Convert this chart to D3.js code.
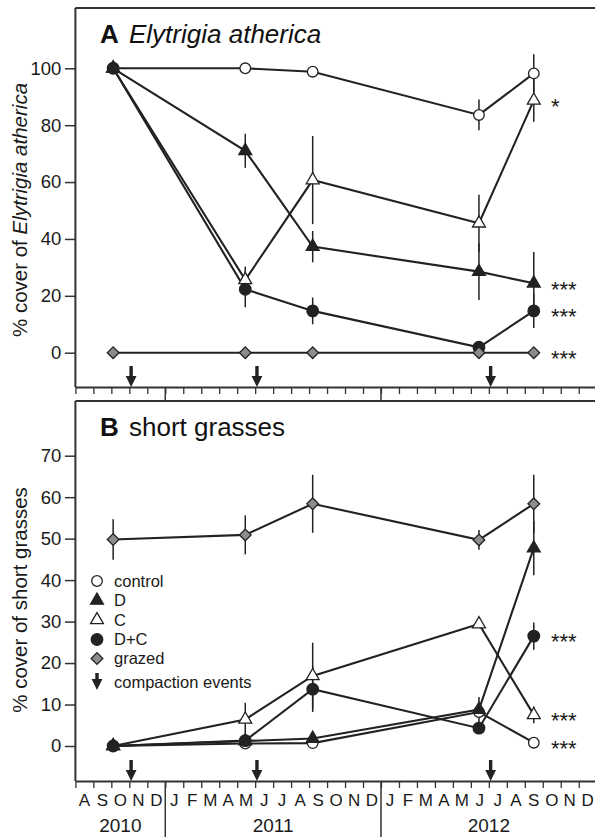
<!DOCTYPE html>
<html>
<head>
<meta charset="utf-8">
<script src="https://cdn.jsdelivr.net/npm/d3@7"></script>
<style>
  body { margin: 0; background: #fff; }
  svg { display: block; font-family: "Liberation Sans", Arial, sans-serif; }
</style>
</head>
<body>
<script>
// months since 1 Aug 2010 (axis runs Aug 2010 .. Dec 2012)
const monthLabels = ["A","S","O","N","D","J","F","M","A","M","J","J","A","S","O","N","D","J","F","M","A","M","J","J","A","S","O","N","D"]
const yearLabels = ["2010", "2011", "2012"]
const yearStarts = [0, 5, 17]
const yearEnds = [5, 17, 29]

const sampleTimes = [2.1, 9.45, 13.2, 22.45, 25.5]
const compactionTimes = [3.1, 10.1, 23.1]

const seriesNames = ["control", "C", "D", "D+C", "grazed"]

// panel A - Elytrigia atherica
const aTicks = [0, 20, 40, 60, 80, 100]
const aControl = [100, 100, 98.8, 83.6, 98.2]
const aControlErr = [0, 0, 0, 5.4, 6.7]
const aD = [100, 71, 37.3, 28.5, 24.4]
const aDErr = [0, 6, 5.5, 10, 11]
const aC = [100, 25.6, 60.7, 45.5, 88.7]
const aCErr = [0, 4.7, 15.5, 10, 7.5]
const aDC = [100, 22.3, 14.7, 1.9, 14.7]
const aDCErr = [0, 6.3, 4.7, 0, 6]
const aGrazed = [0, 0, 0, 0, 0]
const aGrazedErr = [0, 0, 0, 0, 0]
const aSig = { "C": "*", "D": "***", "D+C": "***", "grazed": "***" }

// panel B - short grasses
const bTicks = [0, 10, 20, 30, 40, 50, 60, 70]
const bControl = [0, 0.6, 0.7, 8.2, 0.8]
const bControlErr = [0, 0, 0, 0, 0]
const bD = [0, 1.2, 1.8, 8.8, 47.7]
const bDErr = [0, 0, 0, 3, 6.5]
const bC = [0, 6.4, 16.9, 29.4, 7.5]
const bCErr = [0, 4, 8, 0, 2]
const bDC = [0, 1.3, 13.7, 4.3, 26.5]
const bDCErr = [0, 0, 5.5, 0, 3.3]
const bGrazed = [49.8, 50.9, 58.4, 49.7, 58.4]
const bGrazedErr = [4.9, 4.7, 7, 2.4, 7]
const bSig = { "control": "***", "C": "***", "D+C": "***" }

const legendLabels = ["control", "D", "C", "D+C", "grazed", "compaction events"]

const W = 595, H = 837
const ink = "#222"

const svg = d3.select("body").append("svg")
	.attr("width", W)
	.attr("height", H)

const x = d3.scaleLinear().domain([0, 29]).range([75.4, 596.7])

const shapes = {
	"control": { sym: d3.symbolCircle, size: 88, fill: "#fff" },
	"D": { sym: d3.symbolTriangle, size: 72, fill: ink },
	"C": { sym: d3.symbolTriangle, size: 72, fill: "#fff" },
	"D+C": { sym: d3.symbolCircle, size: 105, fill: ink },
	"grazed": { sym: d3.symbolSquare, size: 68, fill: "#8c8c8c", rot: 45 }
}

function marker(sel, name) {
	let s = shapes[name]
	sel.append("path")
		.attr("d", d3.symbol().type(s.sym).size(s.size))
		.attr("transform", s.rot ? "rotate(" + s.rot + ")" : null)
		.attr("fill", s.fill)
		.attr("stroke", ink)
		.attr("stroke-width", 1.3)
}

function arrow(g, cx, tip, len) {
	let p = d3.path()
	p.moveTo(cx - 1.7, tip - len)
	p.lineTo(cx + 1.7, tip - len)
	p.lineTo(cx + 1.7, tip - 11)
	p.lineTo(cx + 5.4, tip - 11)
	p.lineTo(cx, tip)
	p.lineTo(cx - 5.4, tip - 11)
	p.lineTo(cx - 1.7, tip - 11)
	p.closePath()
	g.append("path").attr("d", p.toString()).attr("fill", ink)
}

function drawPanel(opt) {
	let { top, bottom, y, ticks, series, sig, letter, title, italic, ylabel, ylabelY } = opt
	let g = svg.append("g")

	// frame top
	g.append("line")
		.attr("x1", x(0)).attr("x2", W + 5)
		.attr("y1", top).attr("y2", top)
		.attr("stroke", "#333").attr("stroke-width", 2)

	// left axis
	let ya = g.append("g")
		.attr("transform", "translate(" + x(0) + ",0)")
		.call(d3.axisLeft(y).tickValues(ticks).tickSize(10.5).tickSizeOuter(0).tickPadding(3.5))
	ya.select(".domain").remove()
	ya.selectAll(".tick line").attr("stroke", "#333").attr("stroke-width", 1.5)
	ya.selectAll(".tick text").attr("font-size", 18.5).attr("fill", "#1a1a1a")
		.attr("font-family", "Liberation Sans, Arial, sans-serif")
	g.append("line")
		.attr("x1", x(0)).attr("x2", x(0))
		.attr("y1", top).attr("y2", bottom)
		.attr("stroke", "#333").attr("stroke-width", 2)

	// bottom axis, a tick at every month boundary
	let xa = g.append("g")
		.attr("transform", "translate(0," + bottom + ")")
		.call(d3.axisBottom(x).tickValues(d3.range(0, 30)).tickSize(7).tickSizeOuter(0).tickFormat(""))
	xa.select(".domain").attr("stroke", "#333").attr("stroke-width", 2)
	xa.selectAll(".tick line").attr("stroke", "#333").attr("stroke-width", 1.3)

	// error bars
	series.forEach(s => {
		g.selectAll(null)
			.data(s.vals.map((v, i) => ({ t: sampleTimes[i], v: v, e: s.err[i] })).filter(d => d.e > 0))
			.enter().append("line")
			.attr("x1", d => x(d.t)).attr("x2", d => x(d.t))
			.attr("y1", d => y(d.v - d.e)).attr("y2", d => y(d.v + d.e))
			.attr("stroke", ink).attr("stroke-width", 1.5)
	})

	// lines
	let line = d3.line().x((d, i) => x(sampleTimes[i])).y(d => y(d))
	series.forEach(s => {
		g.append("path")
			.attr("d", line(s.vals))
			.attr("fill", "none")
			.attr("stroke", ink)
			.attr("stroke-width", 2.1)
	})

	// markers
	series.forEach(s => {
		s.vals.forEach((v, i) => {
			let m = g.append("g").attr("transform", "translate(" + x(sampleTimes[i]) + "," + y(v) + ")")
			marker(m, s.name)
		})
	})

	// significance stars
	series.forEach(s => {
		if (!sig[s.name]) return
		g.append("text")
			.attr("x", 551)
			.attr("y", y(s.vals[s.vals.length - 1]))
			.attr("dy", "0.6em")
			.attr("font-size", 22)
			.attr("fill", "#1a1a1a")
			.text(sig[s.name])
	})

	// compaction events
	compactionTimes.forEach(t => arrow(g, x(t), bottom, 21))

	// title
	let tt = g.append("text")
		.attr("x", 100).attr("y", top + 35)
		.attr("font-size", 26).attr("fill", "#111")
	tt.append("tspan").attr("font-weight", "bold").text(letter)
	tt.append("tspan").attr("x", 129).attr("font-style", italic ? "italic" : null).text(title)

	// y label
	let yl = g.append("text")
		.attr("transform", "translate(27," + ylabelY + ") rotate(-90)")
		.attr("text-anchor", "middle")
		.attr("font-size", 20.5)
		.attr("fill", "#1a1a1a")
	yl.append("tspan").text("% cover of ")
	yl.append("tspan").attr("font-style", italic ? "italic" : null).text(ylabel)

	return g
}

function mk(vals, err) { return { vals: vals, err: err } }

let aSeries = [
	Object.assign({ name: "control" }, mk(aControl, aControlErr)),
	Object.assign({ name: "C" }, mk(aC, aCErr)),
	Object.assign({ name: "D" }, mk(aD, aDErr)),
	Object.assign({ name: "D+C" }, mk(aDC, aDCErr)),
	Object.assign({ name: "grazed" }, mk(aGrazed, aGrazedErr))
]
let bSeries = [
	Object.assign({ name: "control" }, mk(bControl, bControlErr)),
	Object.assign({ name: "C" }, mk(bC, bCErr)),
	Object.assign({ name: "D" }, mk(bD, bDErr)),
	Object.assign({ name: "D+C" }, mk(bDC, bDCErr)),
	Object.assign({ name: "grazed" }, mk(bGrazed, bGrazedErr))
]

drawPanel({
	top: 8, bottom: 387,
	y: d3.scaleLinear().domain([0, 100]).range([352.7, 68.3]),
	ticks: aTicks, series: aSeries, sig: aSig,
	letter: "A", title: "Elytrigia atherica", italic: true,
	ylabel: "Elytrigia atherica", ylabelY: 210
})

drawPanel({
	top: 401, bottom: 781,
	y: d3.scaleLinear().domain([0, 70]).range([746, 455.7]),
	ticks: bTicks, series: bSeries, sig: bSig,
	letter: "B", title: "short grasses", italic: false,
	ylabel: "short grasses", ylabelY: 600
})

// year separators
yearStarts.slice(1).forEach(m => {
	svg.append("line")
		.attr("x1", x(m)).attr("x2", x(m))
		.attr("y1", 387).attr("y2", 401)
		.attr("stroke", "#333").attr("stroke-width", 1.5)
	svg.append("line")
		.attr("x1", x(m)).attr("x2", x(m))
		.attr("y1", 781).attr("y2", H)
		.attr("stroke", "#333").attr("stroke-width", 1.5)
})

// month and year labels
svg.selectAll(".month")
	.data(monthLabels)
	.enter().append("text")
	.attr("class", "month")
	.attr("x", (d, i) => x(i + 0.5))
	.attr("y", 806)
	.attr("text-anchor", "middle")
	.attr("font-size", 17)
	.attr("fill", "#1a1a1a")
	.text(d => d)

svg.selectAll(".year")
	.data(yearLabels)
	.enter().append("text")
	.attr("class", "year")
	.attr("x", (d, i) => x((yearStarts[i] + yearEnds[i]) / 2))
	.attr("y", 832)
	.attr("text-anchor", "middle")
	.attr("font-size", 19)
	.attr("fill", "#1a1a1a")
	.text(d => d)

// legend
let lg = svg.append("g")
let legY = [581, 600.5, 620, 639.5, 658.5, 682]
legendLabels.forEach((lab, i) => {
	let row = lg.append("g").attr("transform", "translate(97," + legY[i] + ")")
	if (i < 5) marker(row, lab)
	else arrow(row, 0, 8, 17)
	row.append("text")
		.attr("x", 17)
		.attr("dy", "0.35em")
		.attr("font-size", 16.5)
		.attr("fill", "#1a1a1a")
		.text(lab)
})
</script>
</body>
</html>
